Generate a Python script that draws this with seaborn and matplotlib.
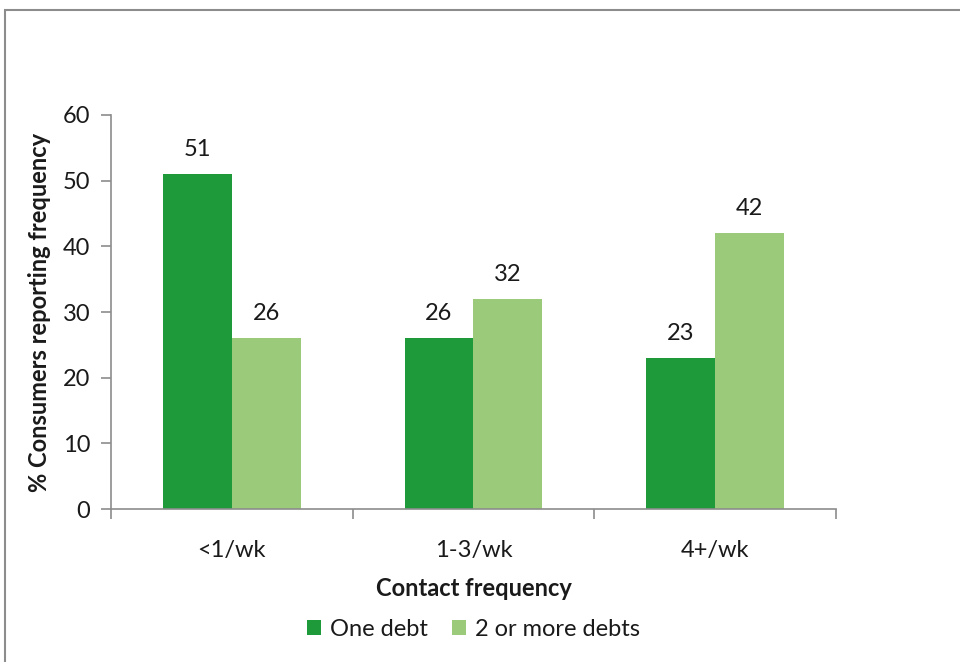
import pandas as pd
import matplotlib.pyplot as plt
import seaborn as sns
from matplotlib.patches import Rectangle

# Chart data
categories = ['<1/wk', '1-3/wk', '4+/wk']
series_names = ['One debt', '2 or more debts']
one_debt = [51, 26, 23]
two_plus_debts = [26, 32, 42]
y_ticks = [0, 10, 20, 30, 40, 50, 60]

df = pd.DataFrame({
    'category': categories * 2,
    'series': [series_names[0]] * 3 + [series_names[1]] * 3,
    'value': one_debt + two_plus_debts,
})

sns.set_style('white')
plt.rcParams['font.family'] = ['Lato', 'DejaVu Sans']
text_color = '#1a1a1a'
axis_color = '#8c8c8c'
fs = 17

fig = plt.figure(figsize=(9.6, 6.62), dpi=100)
ax = fig.add_axes([0.1156, 0.2311, 0.7552, 0.5952])

sns.barplot(data=df, x='category', y='value', hue='series', order=categories,
            hue_order=series_names, palette=['#1e9a3a', '#9bca7a'],
            width=0.57, gap=0, saturation=1, linewidth=0, ax=ax, legend=True)

for container in ax.containers:
    ax.bar_label(container, fmt='%d', padding=10, fontsize=fs, color=text_color)

ax.set_xlim(-0.5, 2.5)
ax.set_ylim(0, 60)
ax.set_yticks(y_ticks)
ax.set_xticks([-0.5, 0.5, 1.5, 2.5], minor=True)
ax.tick_params(axis='x', which='major', bottom=False, length=0, pad=22,
               labelsize=fs, labelcolor=text_color)
ax.tick_params(axis='x', which='minor', bottom=True, length=7, width=1.2,
               color=axis_color, direction='out')
ax.tick_params(axis='y', left=True, length=7, width=1.2, color=axis_color, direction='out',
               labelsize=fs, labelcolor=text_color, pad=8)

for side in ['top', 'right']:
    ax.spines[side].set_visible(False)
for side in ['left', 'bottom']:
    ax.spines[side].set_color(axis_color)
    ax.spines[side].set_linewidth(1.2)

ax.set_xlabel('Contact frequency', fontsize=fs, fontweight='bold', color=text_color, labelpad=12)
ax.set_ylabel('% Consumers reporting frequency', fontsize=fs, fontweight='bold',
              color=text_color, labelpad=8)

ax.legend(loc='upper center', bbox_to_anchor=(0.5, -0.225), ncol=2, frameon=False,
          fontsize=fs, handlelength=0.6, handleheight=0.6, handletextpad=0.4,
          columnspacing=1.0, labelcolor=text_color)

# outer frame of the chart area
fig.patches.append(Rectangle((0.005, -0.05), 1.1, 1.035, transform=fig.transFigure,
                             fill=False, edgecolor='#8c8c8c', linewidth=1.5))

fig.savefig('out.png', dpi=100)
